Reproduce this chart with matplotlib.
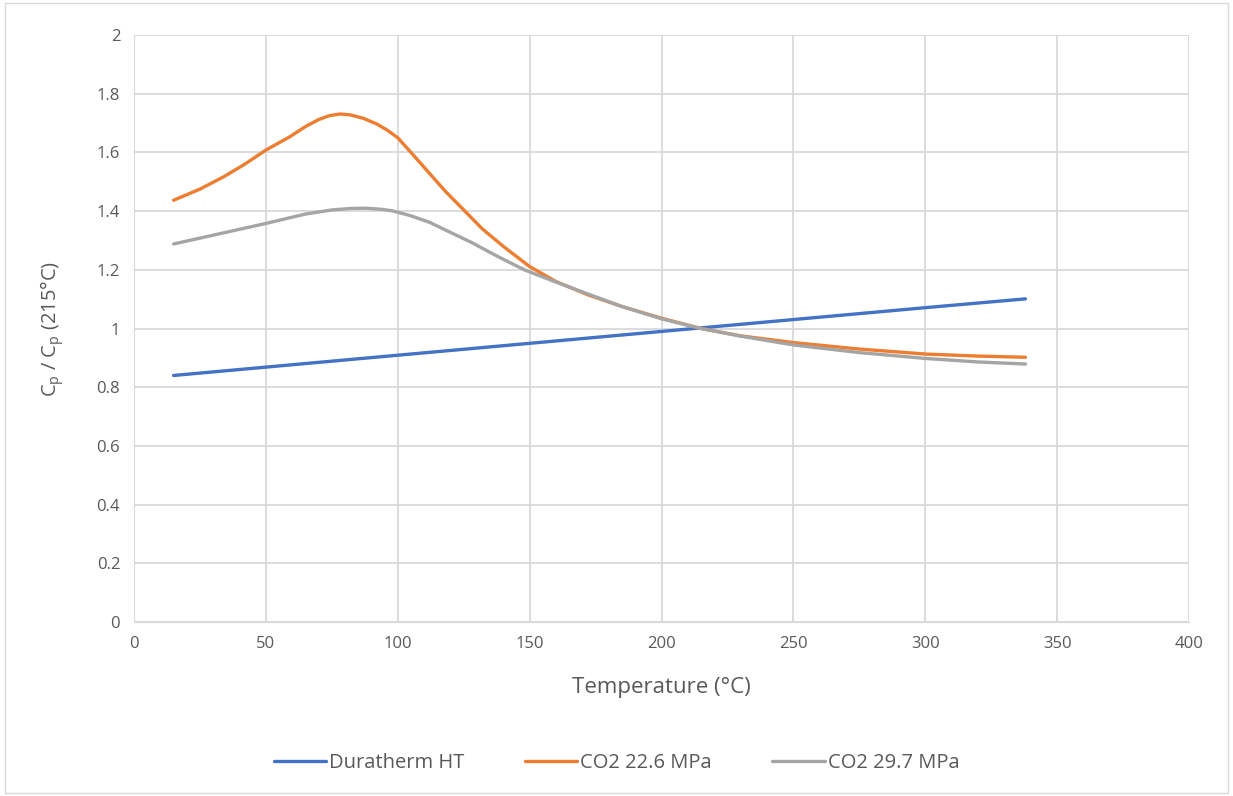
import matplotlib
matplotlib.use("Agg")
import matplotlib.pyplot as plt
from matplotlib.patches import Rectangle

plt.rcParams['font.family'] = ['Open Sans', 'DejaVu Sans']

# Duratherm HT (linear)
t_oil = [15, 100, 200, 300, 338]
cp_oil = [0.840, 0.909, 0.990, 1.071, 1.101]

# CO2 22.6 MPa
t_co2a = [15, 25, 34, 42, 50, 59, 65, 70, 74, 78, 82, 87, 92, 96, 100, 106, 112,
          118, 125, 132, 140, 150, 160, 172, 185, 200, 215, 230, 250, 275, 300, 320, 338]
cp_co2a = [1.437, 1.475, 1.517, 1.560, 1.608, 1.653, 1.688, 1.712, 1.725, 1.731, 1.728, 1.716,
           1.697, 1.676, 1.650, 1.590, 1.529, 1.468, 1.404, 1.340, 1.280, 1.211, 1.160, 1.115,
           1.075, 1.035, 1.000, 0.975, 0.952, 0.930, 0.913, 0.906, 0.902]

# CO2 29.7 MPa
t_co2b = [15, 30, 50, 65, 75, 82, 88, 94, 98, 105, 112, 118, 128, 138, 148, 158,
          172, 185, 200, 215, 230, 250, 275, 300, 320, 338]
cp_co2b = [1.288, 1.318, 1.358, 1.390, 1.404, 1.409, 1.410, 1.406, 1.401, 1.384, 1.362, 1.336,
           1.293, 1.245, 1.200, 1.165, 1.118, 1.075, 1.033, 1.000, 0.974, 0.944, 0.918, 0.898,
           0.886, 0.879]

fig = plt.figure(figsize=(12.33, 7.96), dpi=100)
ax = fig.add_axes([0.1087, 0.2186, 0.8556, 0.7374])

ax.plot(t_oil, cp_oil, color='#4472C4', lw=2.4, label='Duratherm HT', solid_capstyle='round')
ax.plot(t_co2a, cp_co2a, color='#ED7D31', lw=2.4, label='CO2 22.6 MPa', solid_capstyle='round')
ax.plot(t_co2b, cp_co2b, color='#A5A5A5', lw=2.4, label='CO2 29.7 MPa', solid_capstyle='round')

ax.set_xlim(0, 400)
ax.set_ylim(0, 2)
ax.set_xticks(range(0, 401, 50))
ax.set_yticks([0, 0.2, 0.4, 0.6, 0.8, 1.0, 1.2, 1.4, 1.6, 1.8, 2.0])
ax.set_yticklabels(['0', '0.2', '0.4', '0.6', '0.8', '1', '1.2', '1.4', '1.6', '1.8', '2'])
ax.grid(True, color='#D9D9D9', lw=1.3)
ax.set_axisbelow(True)
for s in ax.spines.values():
    s.set_visible(False)
ax.spines['left'].set_visible(True)
ax.spines['left'].set_color('#D9D9D9')
ax.spines['bottom'].set_visible(True)
ax.spines['bottom'].set_color('#D9D9D9')
ax.tick_params(length=0, labelsize=12, colors='#595959', pad=10)

ax.set_xlabel('Temperature (°C)', fontsize=16, color='#595959', labelpad=18)
ax.set_ylabel(r'C$_\mathregular{p}$ / C$_\mathregular{p}$ (215°C)', fontsize=14.5,
              color='#595959', labelpad=22)

leg = fig.legend(loc='center', bbox_to_anchor=(0.5, 0.041), ncol=3, frameon=False,
                 fontsize=14.5, handlelength=2.6, columnspacing=3.0, handletextpad=0.15)
for txt in leg.get_texts():
    txt.set_color('#595959')

fig.patches.append(Rectangle((0.004, 0.004), 0.992, 0.992, transform=fig.transFigure,
                             fill=False, edgecolor='#D9D9D9', lw=1))

fig.savefig('out.png', dpi=100)
